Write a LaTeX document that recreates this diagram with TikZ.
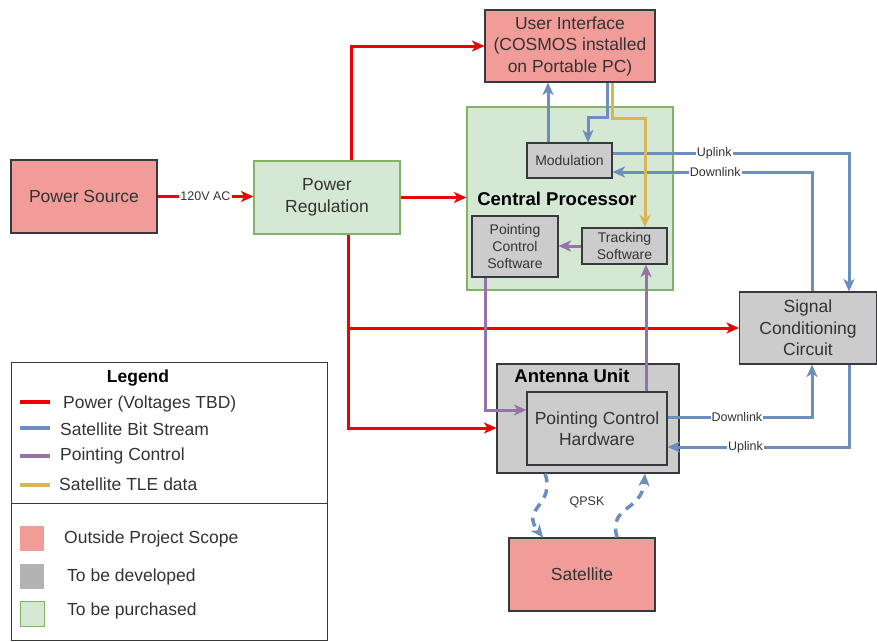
\documentclass[tikz,border=0pt]{standalone}
\usepackage{fontspec}
\setmainfont{Liberation Sans}
\usetikzlibrary{arrows.meta}
\definecolor{pinkf}{HTML}{F19C99}
\definecolor{grayf}{HTML}{CCCCCC}
\definecolor{grayl}{HTML}{B3B3B3}
\definecolor{greenf}{HTML}{D5E8D4}
\definecolor{greend}{HTML}{82B366}
\definecolor{edge}{HTML}{36393D}
\definecolor{pwr}{HTML}{F00000}
\definecolor{bitc}{HTML}{6C8EBF}
\definecolor{ptc}{HTML}{9673A6}
\definecolor{tlec}{HTML}{D6B656}
\definecolor{txt}{HTML}{333333}
\begin{document}
\begin{tikzpicture}[x=1pt,y=-1pt,
  >={Stealth[length=12.5pt,width=11pt,inset=3.5pt]},
  bx/.style 2 args={draw=edge, line width=1.1pt, minimum width=#1, minimum height=#2,
    inner sep=0pt, align=center, text=txt, font=\fontsize{17.5}{21.5}\selectfont},
  sbx/.style 2 args={bx={#1}{#2}, fill=grayf, font=\fontsize{14}{17}\selectfont},
  ttl/.style={inner sep=0pt, text=black, font=\bfseries\fontsize{18.5}{22}\selectfont},
  pw/.style={draw=pwr, line width=3pt},
  bs/.style={draw=bitc, line width=3pt},
  pc/.style={draw=ptc, line width=3pt},
  tle/.style={draw=tlec, line width=3pt},
  lbl/.style={fill=white, inner sep=1pt, text=txt, font=\fontsize{12.5}{14}\selectfont},
  legtxt/.style={anchor=west, inner sep=0pt, text=txt, font=\fontsize{17.5}{21}\selectfont}
]
\useasboundingbox (0,0) rectangle (877,641);

% boxes
\node[bx={170}{72}, fill=pinkf] (ui) at (570,46) {User Interface\\(COSMOS installed\\on Portable PC)};
\node[bx={206}{183}, fill=greenf, draw=greend] (cp) at (570,198.5) {};
\node[ttl] (cpl) at (557,199) {Central Processor};
\node[sbx={85}{35}] (mod) at (569.5,160.5) {Modulation};
\node[sbx={86}{61}] (pcs) at (515,246.5) {Pointing\\Control\\Software};
\node[sbx={85}{36}] (trk) at (624.5,246) {Tracking\\Software};
\node[bx={146}{73}, fill=pinkf] (ps) at (84,196.5) {Power Source};
\node[bx={146}{73}, fill=greenf, draw=greend] (pr) at (327,197.5) {Power\\Regulation};
\node[bx={137}{72}, fill=grayf] (scc) at (808,328) {Signal\\Conditioning\\Circuit};
\node[bx={182}{109}, fill=grayf] (au) at (588,418.5) {};
\node[ttl] (aul) at (572,376) {Antenna Unit};
\node[bx={140}{73}, fill=grayf] (pch) at (597,428.5) {Pointing Control\\Hardware};
\node[bx={146}{73}, fill=pinkf] (sat) at (582,574.5) {Satellite};

% coordinates for bends
\coordinate (ra) at (351,45);
\coordinate (rb) at (348,428);
\coordinate (b1) at (548,0);
\coordinate (b2) at (607,117);
\coordinate (b3) at (588,117);
\coordinate (b4) at (849,153);
\coordinate (b5) at (812,172);
\coordinate (b6) at (812,417);
\coordinate (b7) at (849,447);
\coordinate (p1) at (485,410);
\coordinate (p2) at (646,0);
\coordinate (g1) at (612,118);
\coordinate (g2) at (645,118);
\coordinate (d1) at (545,0);
\coordinate (d2) at (543,0);
\coordinate (d3) at (617,0);
\coordinate (d4) at (645,0);

% power
\draw[pw,->] (ps.east) -- node[lbl]{120V AC} (ps.east -| pr.west);
\draw[pw,->] (pr.north -| ra) |- (ui.west);
\draw[pw,->] (pr.east) -- (pr.east -| cp.west);
\draw[pw,->] (pr.south -| rb) |- (au.west |- rb);
\draw[pw,->] (rb |- scc.west) -- (scc.west);

% bit stream
\draw[bs,->] (mod.north -| b1) -- (ui.south -| b1);
\draw[bs,->] (ui.south -| b2) -- (b2) -- (b3) -- (mod.north -| b3);
\draw[bs,->] (mod.east |- b4) -- node[lbl,pos=0.43]{Uplink} (b4) -- (scc.north -| b4);
\draw[bs,->] (scc.north -| b5) -- (b5) -- node[lbl,pos=0.485]{Downlink} (mod.east |- b5);
\draw[bs,->] (pch.east |- b6) -- node[lbl,pos=0.48]{Downlink} (b6) -- (scc.south -| b6);
\draw[bs,->] (scc.south -| b7) -- (b7) -- node[lbl,pos=0.57]{Uplink} (pch.east |- b7);
\draw[bs,->,line width=3.5pt,dash pattern=on 9pt off 7pt] (au.south -| d1) .. controls (556,505) and (520,508) .. (sat.north -| d2);
\draw[bs,->,line width=3.5pt,dash pattern=on 9pt off 7pt] (sat.north -| d3) .. controls (608,505) and (642,512) .. (au.south -| d4);
\node[lbl, fill=none] (qpsk) at (587,502) {QPSK};

% pointing control
\draw[pc,->] (trk.west) -- (pcs.east |- trk.west);
\draw[pc,->] (pcs.south -| p1) |- (pch.west |- p1);
\draw[pc,->] (pch.north -| p2) -- (trk.south -| p2);

% TLE
\draw[tle,->] (ui.south -| g1) -- (g1) -- (g2) -- (trk.north -| g2);

% legend
\node[draw=edge, line width=1pt, minimum width=316, minimum height=278, inner sep=0pt] (leg) at (169,501) {};
\draw[draw=edge, line width=1pt] (11,503) -- (327,503);
\node[ttl, font=\bfseries\fontsize{17.5}{21}\selectfont] (legt) at (138,378) {Legend};
\draw[pw, line width=4pt] (20,402) -- (50,402);
\draw[bs, line width=4pt] (20,428) -- (50,428);
\draw[pc, line width=4pt] (20,456) -- (50,456);
\draw[tle, line width=4pt] (20,485) -- (50,485);
\node[legtxt] (l1) at (63,404) {Power (Voltages TBD)};
\node[legtxt] (l2) at (60,429) {Satellite Bit Stream};
\node[legtxt] (l3) at (60,456) {Pointing Control};
\node[legtxt] (l4) at (59,484) {Satellite TLE data};
\fill[pinkf] (20,526) rectangle (44,551);
\fill[grayl] (20,564) rectangle (44,589);
\filldraw[fill=greenf, draw=greend, line width=0.8pt] (20,601) rectangle (44,626);
\node[legtxt] (l5) at (64,539) {Outside Project Scope};
\node[legtxt] (l6) at (67,577) {To be developed};
\node[legtxt] (l7) at (67,611) {To be purchased};
\end{tikzpicture}
\end{document}
